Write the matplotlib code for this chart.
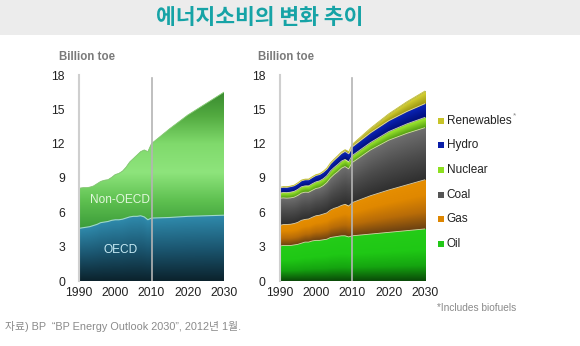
import numpy as np
import matplotlib
matplotlib.use("Agg")
import matplotlib.pyplot as plt
from matplotlib.colors import LinearSegmentedColormap
from matplotlib.patches import Rectangle

plt.rcParams['font.family'] = ['Liberation Sans', 'Noto Sans CJK KR']

# ---- data (billion toe) ----
years = [1990, 1991, 1992, 1993, 1994, 1995, 1996, 1997, 1998, 1999, 2000,
         2001, 2002, 2003, 2004, 2005, 2006, 2007, 2008, 2009, 2010,
         2015, 2020, 2025, 2030]

oecd = [4.6, 4.65, 4.7, 4.75, 4.85, 4.95, 5.1, 5.15, 5.2, 5.3, 5.35,
        5.35, 5.4, 5.5, 5.6, 5.65, 5.65, 5.7, 5.6, 5.35, 5.5,
        5.55, 5.65, 5.7, 5.75]
world_total = [8.1, 8.15, 8.15, 8.2, 8.3, 8.5, 8.7, 8.8, 8.85, 9.05, 9.3,
               9.4, 9.6, 9.95, 10.4, 10.7, 11.0, 11.3, 11.45, 11.3, 12.0,
               13.3, 14.5, 15.5, 16.5]

oil = [3.05, 3.1, 3.1, 3.1, 3.15, 3.2, 3.3, 3.4, 3.4, 3.5, 3.55,
       3.55, 3.6, 3.65, 3.8, 3.85, 3.9, 3.95, 3.95, 3.85, 3.95,
       4.1, 4.25, 4.4, 4.55]
gas = [1.8, 1.83, 1.84, 1.86, 1.87, 1.92, 2.0, 1.98, 2.02, 2.07, 2.15,
       2.2, 2.25, 2.3, 2.4, 2.5, 2.55, 2.65, 2.75, 2.7, 2.9,
       3.35, 3.7, 4.0, 4.3]
coal = [2.38, 2.33, 2.3, 2.3, 2.3, 2.35, 2.38, 2.38, 2.33, 2.35, 2.38,
        2.4, 2.48, 2.65, 2.8, 2.95, 3.1, 3.25, 3.3, 3.25, 3.5,
        4.0, 4.35, 4.5, 4.55]
nuclear = [0.45, 0.47, 0.48, 0.5, 0.51, 0.53, 0.55, 0.55, 0.56, 0.58, 0.58,
           0.6, 0.6, 0.6, 0.62, 0.62, 0.63, 0.62, 0.62, 0.61, 0.62,
           0.65, 0.75, 0.83, 0.9]
hydro = [0.45, 0.46, 0.46, 0.48, 0.49, 0.51, 0.52, 0.53, 0.53, 0.54, 0.56,
         0.55, 0.57, 0.58, 0.61, 0.63, 0.66, 0.67, 0.7, 0.7, 0.75,
         0.85, 0.95, 1.08, 1.2]
renewables = [0.05, 0.05, 0.05, 0.05, 0.05, 0.06, 0.06, 0.06, 0.06, 0.07, 0.07,
              0.07, 0.08, 0.08, 0.09, 0.1, 0.11, 0.13, 0.15, 0.17, 0.22,
              0.4, 0.6, 0.85, 1.1]

fuel_names = ['Oil', 'Gas', 'Coal', 'Nuclear', 'Hydro', 'Renewables']
fuel_values = [oil, gas, coal, nuclear, hydro, renewables]

xticks = [1990, 2000, 2010, 2020, 2030]
yticks = [0, 3, 6, 9, 12, 15, 18]


def cmap(stops):
    return LinearSegmentedColormap.from_list('c', stops)


fuel_cmaps = [
    cmap([(0, '#0a4a08'), (0.3, '#15a510'), (0.6, '#1fc815'), (1, '#24cc18')]),
    cmap([(0, '#6a4012'), (0.35, '#b86c08'), (0.7, '#e08800'), (1, '#e68e00')]),
    cmap([(0, '#2e2e2e'), (0.5, '#4c4c4c'), (1, '#6e6e6e')]),
    cmap([(0, '#4e9a10'), (1, '#a2ec30')]),
    cmap([(0, '#000e78'), (1, '#0a24b8')]),
    cmap([(0, '#9a9410'), (1, '#d8d435')]),
]
fuel_key = ['#22c818', '#de8600', '#555555', '#8ee020', '#0a1ea8', '#c8c428']

oecd_cmap = cmap([(0, '#0b222c'), (0.5, '#1b5670'), (1, '#2f8aac')])
nonoecd_cmap = cmap([(0, '#2c8a2e'), (4.5 / 18, '#3a9a38'), (7 / 18, '#5ec050'),
                     (9.5 / 18, '#8ee47c'), (12 / 18, '#80da6c'),
                     (14.5 / 18, '#52aa40'), (1, '#287524')])

xs = np.linspace(1990, 2030, 700)
ys = np.linspace(0, 18, 900)
X, Y = np.meshgrid(xs, ys)


def gradient_image(layers):
    img = np.zeros((len(ys), len(xs), 4))
    for lo, hi, cm, by_y in layers:
        lo_i = np.interp(xs, years, lo)
        hi_i = np.interp(xs, years, hi)
        t = (Y - lo_i) / (hi_i - lo_i)
        m = (t >= 0) & (t <= 1)
        if by_y:
            img[m] = cm(Y[m] / 18.0)
        else:
            img[m] = cm(t[m])
    return img


def style(ax, pad_y):
    ax.set_xlim(1990, 2030)
    ax.set_ylim(0, 18)
    ax.set_xticks(xticks)
    ax.set_yticks(yticks)
    ax.tick_params(length=0, labelsize=8.8, labelcolor='#222222')
    ax.tick_params(axis='y', pad=pad_y)
    ax.tick_params(axis='x', pad=4.5)
    for s in ['top', 'right', 'bottom']:
        ax.spines[s].set_visible(False)
    ax.spines['left'].set_color('#cfcfcf')
    ax.spines['left'].set_linewidth(1.5)
    ax.axvline(2010, ymin=0, ymax=17.7 / 18, color='#b4b4b4', lw=1.2, zorder=5)


fig = plt.figure(figsize=(5.8, 3.46), dpi=100)
fig.patches.append(Rectangle((0, 1 - 35 / 346), 1, 35 / 346, transform=fig.transFigure,
                             facecolor='#ececec', edgecolor='none', zorder=0))
fig.text(260 / 580, 1 - 18 / 346, '에너지소비의 변화 추이', ha='center', va='center',
         fontsize=15.5, fontweight='bold', color='#16a3a6',
         family=['Noto Sans CJK KR'])

# ---- left chart: OECD / Non-OECD ----
ax1 = fig.add_axes([79 / 580, 1 - 281 / 346, 145 / 580, 206 / 346])
zeros = np.zeros(len(years))
img = gradient_image([(zeros, oecd, oecd_cmap, False),
                      (oecd, world_total, nonoecd_cmap, True)])
ax1.imshow(img, extent=[1990, 2030, 0, 18], origin='lower', aspect='auto', zorder=1)
ax1.plot(years, oecd, color='#9fd8c8', lw=0.8, zorder=2)
ax1.plot(years, world_total, color='#86d472', lw=0.6, zorder=2)
style(ax1, 10)
ax1.text(2001.4, 7.1, 'Non-OECD', ha='center', va='center', fontsize=8.6,
         color='#e2f7dc', zorder=3)
ax1.text(2001.4, 2.7, 'OECD', ha='center', va='center', fontsize=8.6,
         color='#c6eaf4', zorder=3)
fig.text(59 / 580, 1 - 57 / 346, 'Billion toe', fontsize=8.3, fontweight='bold',
         color='#7a7a7a', va='center')

# ---- right chart: by fuel ----
ax2 = fig.add_axes([279.5 / 580, 1 - 281 / 346, 145.5 / 580, 206 / 346])
cum = np.cumsum(np.array(fuel_values), axis=0)
bottoms = np.vstack([np.zeros(len(years)), cum[:-1]])
img2 = gradient_image([(bottoms[i], cum[i], fuel_cmaps[i], False)
                       for i in range(len(fuel_names))])
ax2.imshow(img2, extent=[1990, 2030, 0, 18], origin='lower', aspect='auto', zorder=1)
for i in range(len(fuel_names) - 1):
    ax2.plot(years, cum[i], color='#efe6c4', lw=0.6, alpha=0.85, zorder=2)
ax2.plot(years, cum[-1], color='#c8c428', lw=0.6, zorder=2)
style(ax2, 10)
fig.text(258 / 580, 1 - 57 / 346, 'Billion toe', fontsize=8.3, fontweight='bold',
         color='#7a7a7a', va='center')

# legend
leg_y = [244, 219, 195, 170, 145, 121]
for name, col, yy in zip(fuel_names, fuel_key, leg_y):
    fig.patches.append(Rectangle((437.5 / 580, 1 - (yy + 3) / 346), 6 / 580, 6 / 346,
                                 transform=fig.transFigure, facecolor=col,
                                 edgecolor='none'))
    fig.text(446.5 / 580, 1 - yy / 346, name, fontsize=8.5, color='#222222',
             va='center', ha='left')
fig.text(513 / 580, 1 - 116 / 346, '*', fontsize=6, color='#888888',
         va='center', ha='left')
fig.text(437 / 580, 1 - 308 / 346, '*Includes biofuels', fontsize=7.3,
         color='#8a8a8a', va='center', ha='left')

fig.text(5 / 580, 1 - 327 / 346, '자료) BP  \u201cBP Energy Outlook 2030\u201d, 2012년 1월.',
         fontsize=7.8, color='#8a8a8a', va='center', ha='left')

fig.savefig('out.png', dpi=100)
